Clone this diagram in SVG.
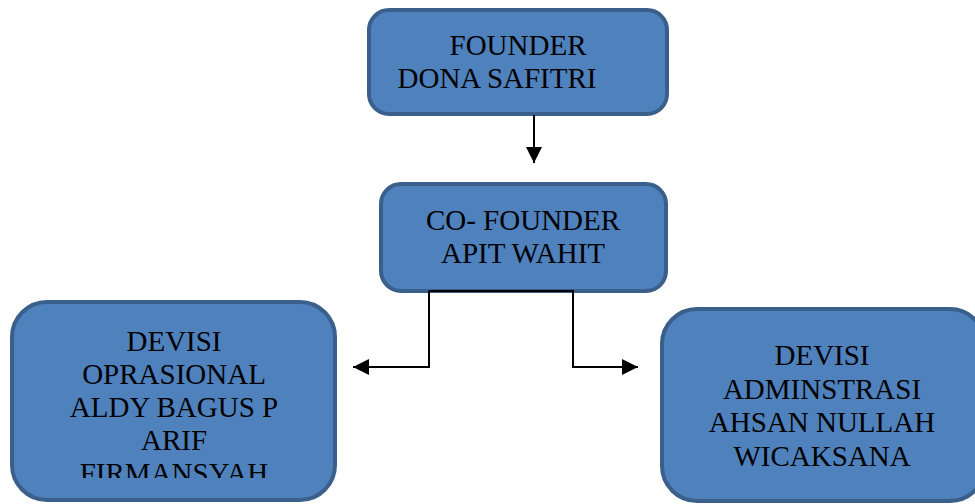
<svg xmlns="http://www.w3.org/2000/svg" width="975" height="504" viewBox="0 0 975 504">
<style>
.box{fill:#4F81BD;stroke:#3A5F8B;stroke-width:4}
.t{font-family:"Liberation Serif","Times New Roman",serif;font-size:29px;fill:#000;text-anchor:middle}
.c{fill:none;stroke:#000;stroke-width:2}
</style>
<defs>
<marker id="ah" viewBox="0 0 10 10" refX="10" refY="5" markerWidth="8" markerHeight="8" markerUnits="strokeWidth" orient="auto">
<path d="M0,0 L10,5 L0,10 z" fill="#000"/>
</marker>
<clipPath id="clipL"><rect x="0" y="290" width="350" height="188"/></clipPath>
</defs>
<g id="founder">
<rect class="box" x="369" y="10" width="298" height="104" rx="20"/>
<text class="t" x="518" y="55">FOUNDER</text>
<text class="t" x="497" y="88">DONA SAFITRI</text>
</g>
<g id="cofounder">
<rect class="box" x="381" y="184" width="285" height="107" rx="20"/>
<text class="t" x="523" y="230">CO- FOUNDER</text>
<text class="t" x="523" y="263">APIT WAHIT</text>
</g>
<g id="devisi-oprasional">
<rect class="box" x="12" y="302" width="323" height="198" rx="35"/>
<g clip-path="url(#clipL)">
<text class="t" x="174" y="351">DEVISI</text>
<text class="t" x="174" y="384">OPRASIONAL</text>
<text class="t" x="174" y="417">ALDY BAGUS P</text>
<text class="t" x="174" y="450">ARIF</text>
<text class="t" x="174" y="483">FIRMANSYAH</text>
</g>
</g>
<g id="devisi-administrasi">
<rect class="box" x="662" y="309" width="323" height="192" rx="35"/>
<text class="t" x="822" y="365">DEVISI</text>
<text class="t" x="822" y="399">ADMINSTRASI</text>
<text class="t" x="822" y="432">AHSAN NULLAH</text>
<text class="t" x="822" y="466">WICAKSANA</text>
</g>
<g id="connectors">
<line class="c" x1="534" y1="115" x2="534" y2="163" marker-end="url(#ah)"/>
<polyline class="c" points="429,291 429,367 353,367" marker-end="url(#ah)"/>
<polyline class="c" points="429,291 573,291 573,367 638,367" marker-end="url(#ah)"/>
</g>
</svg>
